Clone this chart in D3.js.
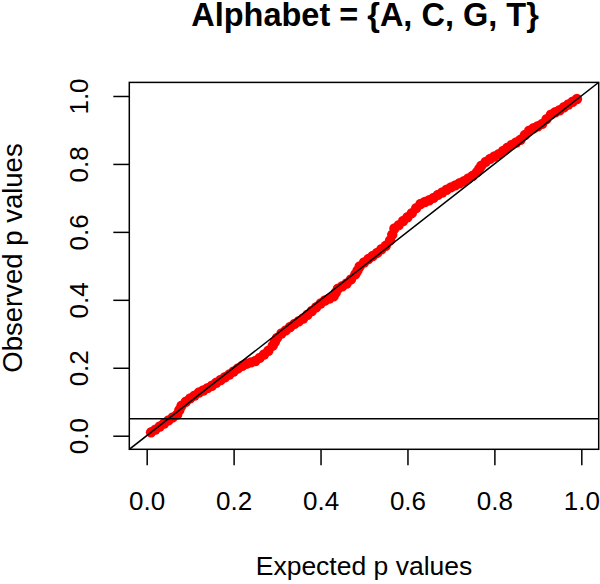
<!DOCTYPE html>
<html>
<head>
<meta charset="utf-8">
<script src="https://cdn.jsdelivr.net/npm/d3@7"></script>
<style>
  html, body { margin: 0; padding: 0; background: #fff; }
  svg { display: block; font-family: "Liberation Sans", Arial, Helvetica, sans-serif; }
</style>
</head>
<body>
<svg id="chart" width="600" height="584"></svg>
<script>
// ---- data ----
const titleText = "Alphabet = {A, C, G, T}";
const xLabel = "Expected p values";
const yLabel = "Observed p values";
const xTicks = [0.0, 0.2, 0.4, 0.6, 0.8, 1.0];
const yTicks = [0.0, 0.2, 0.4, 0.6, 0.8, 1.0];
const refLevel = 0.05;

const expectedP = [
  0.01, 0.02, 0.03, 0.04, 0.05, 0.06, 0.07, 0.075, 0.08, 0.09, 0.10,
  0.11, 0.12, 0.13, 0.14, 0.15, 0.16, 0.17, 0.18, 0.19, 0.20,
  0.21, 0.22, 0.23, 0.24, 0.25, 0.26, 0.27, 0.28, 0.29, 0.295, 0.30,
  0.31, 0.32, 0.33, 0.34, 0.35, 0.36, 0.37, 0.38, 0.39, 0.40,
  0.41, 0.42, 0.43, 0.435, 0.44, 0.45, 0.46, 0.47, 0.48, 0.485, 0.49, 0.50,
  0.51, 0.52, 0.53, 0.54, 0.55, 0.56, 0.565, 0.57, 0.58, 0.59, 0.60,
  0.61, 0.62, 0.63, 0.64, 0.65, 0.66, 0.67, 0.68, 0.69, 0.70,
  0.71, 0.72, 0.73, 0.74, 0.75, 0.76, 0.765, 0.77, 0.78, 0.79, 0.80,
  0.81, 0.82, 0.83, 0.84, 0.85, 0.86, 0.87, 0.88, 0.89, 0.90,
  0.91, 0.92, 0.93, 0.94, 0.95, 0.96, 0.97, 0.98, 0.99
];
const observedP = [
  0.010, 0.018, 0.027, 0.036, 0.045, 0.054, 0.062, 0.075, 0.088, 0.100, 0.110,
  0.118, 0.127, 0.133, 0.140, 0.147, 0.156, 0.164, 0.172, 0.180, 0.189,
  0.198, 0.206, 0.212, 0.216, 0.220, 0.229, 0.239, 0.250, 0.265, 0.276, 0.288,
  0.301, 0.310, 0.320, 0.329, 0.337, 0.345, 0.356, 0.367, 0.378, 0.389,
  0.398, 0.404, 0.410, 0.421, 0.433, 0.440, 0.448, 0.460, 0.475, 0.486, 0.498, 0.510,
  0.520, 0.529, 0.538, 0.549, 0.559, 0.575, 0.592, 0.610, 0.620, 0.632, 0.643,
  0.655, 0.670, 0.682, 0.688, 0.693, 0.700, 0.709, 0.716, 0.724, 0.731,
  0.737, 0.743, 0.749, 0.757, 0.765, 0.776, 0.785, 0.795, 0.806, 0.815, 0.822,
  0.829, 0.838, 0.848, 0.856, 0.863, 0.871, 0.885, 0.898, 0.905, 0.911,
  0.918, 0.932, 0.945, 0.952, 0.958, 0.967, 0.975, 0.983, 0.991
];

// ---- drawing ----
const svg = d3.select("#chart");
const pLeft = 129.3, pRight = 598.7, pTop = 82.4, pBottom = 449.3;

const x = d3.scaleLinear().domain([-0.04, 1.04]).range([pLeft, pRight]);
const y = d3.scaleLinear().domain([-0.04, 1.04]).range([pBottom, pTop]);

const fmt = d3.format(".1f");

svg.append("defs").append("clipPath").attr("id", "plotclip")
  .append("rect").attr("x", pLeft).attr("y", pTop)
  .attr("width", pRight - pLeft).attr("height", pBottom - pTop);

const plot = svg.append("g").attr("clip-path", "url(#plotclip)");

const pts = expectedP.map((e, i) => ({ e: e, o: observedP[i] }));

plot.selectAll("circle.pt").data(pts).enter().append("circle")
  .attr("class", "pt")
  .attr("cx", d => x(d.e))
  .attr("cy", d => y(d.o))
  .attr("r", 5.2)
  .attr("fill", "#ff0000");

// y = x reference line
plot.append("line")
  .attr("x1", x(-0.04)).attr("y1", y(-0.04))
  .attr("x2", x(1.04)).attr("y2", y(1.04))
  .attr("stroke", "#000").attr("stroke-width", 1.5);

// horizontal significance line
plot.append("line")
  .attr("x1", x(-0.04)).attr("y1", y(refLevel))
  .attr("x2", x(1.04)).attr("y2", y(refLevel))
  .attr("stroke", "#000").attr("stroke-width", 1.5);

// box
svg.append("rect")
  .attr("x", pLeft).attr("y", pTop)
  .attr("width", pRight - pLeft).attr("height", pBottom - pTop)
  .attr("fill", "none").attr("stroke", "#000").attr("stroke-width", 1.5);

// x axis
const xAxis = svg.append("g").attr("transform", `translate(0,${pBottom})`)
  .call(d3.axisBottom(x).tickValues(xTicks).tickSize(16).tickFormat(fmt));
xAxis.select(".domain").remove();
xAxis.selectAll(".tick line").attr("stroke", "#000").attr("stroke-width", 1.5);
xAxis.selectAll(".tick text")
  .attr("y", 61).attr("dy", null)
  .attr("font-size", 26).attr("fill", "#000")
  .attr("font-family", "'Liberation Sans', Arial, sans-serif");

// y axis
const yAxis = svg.append("g").attr("transform", `translate(${pLeft},0)`)
  .call(d3.axisLeft(y).tickValues(yTicks).tickSize(16).tickFormat(fmt));
yAxis.select(".domain").remove();
yAxis.selectAll(".tick line").attr("stroke", "#000").attr("stroke-width", 1.5);
yAxis.selectAll(".tick text")
  .attr("x", null).attr("dy", null)
  .attr("transform", `translate(${88 - pLeft},0) rotate(-90)`)
  .attr("text-anchor", "middle")
  .attr("font-size", 26).attr("fill", "#000")
  .attr("font-family", "'Liberation Sans', Arial, sans-serif");

// title
svg.append("text")
  .attr("x", 365).attr("y", 26)
  .attr("text-anchor", "middle")
  .attr("font-size", 32.5).attr("font-weight", "bold")
  .text(titleText);

// x label
svg.append("text")
  .attr("x", (pLeft + pRight) / 2).attr("y", 575)
  .attr("text-anchor", "middle")
  .attr("font-size", 26.5)
  .text(xLabel);

// y label
svg.append("text")
  .attr("transform", "translate(22,258) rotate(-90)")
  .attr("text-anchor", "middle")
  .attr("font-size", 27.5)
  .text(yLabel);
</script>
</body>
</html>
